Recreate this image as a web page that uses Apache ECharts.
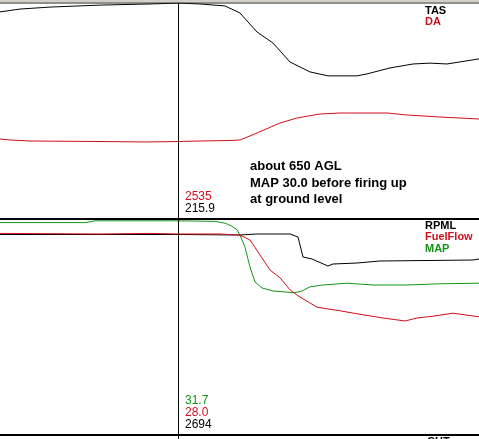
<!DOCTYPE html>
<html>
<head>
<meta charset="utf-8">
<script src="https://cdn.jsdelivr.net/npm/echarts@6/dist/echarts.min.js"></script>
<style>
  html, body { margin: 0; padding: 0; background: #fff; }
  #chart { width: 479px; height: 439px; }
</style>
</head>
<body>
<div id="chart"></div>
<script>
// sample index (time) and values
const tasT = [0, 20, 50, 100, 150, 178, 200, 225, 240, 257, 273, 290, 310, 328, 357, 367, 390, 413, 430, 447, 479]
const tasV = [212.8, 213.8, 214.5, 215.2, 215.6, 215.9, 215.6, 214.9, 212.4, 205.7, 201.8, 195.1, 191.6, 190.2, 190.2, 190.9, 193.0, 194.4, 194.7, 194.4, 196.2]

const daT = [0, 10, 30, 100, 145, 178, 200, 230, 240, 257, 280, 297, 320, 340, 387, 407, 440, 479]
const daV = [2560, 2550, 2540, 2535, 2530, 2535, 2540, 2545, 2550, 2620, 2720, 2770, 2810, 2820, 2820, 2800, 2780, 2760]

const rpmT = [0, 178, 240, 257, 290, 298, 303, 312, 328, 333, 357, 380, 473, 479]
const rpmV = [2694, 2694, 2689, 2699, 2699, 2669, 2469, 2449, 2379, 2399, 2409, 2429, 2439, 2449]

const ffT = [0, 100, 150, 178, 220, 240, 250, 260, 270, 280, 290, 298, 317, 340, 357, 383, 405, 417, 433, 453, 479]
const ffV = [28.1, 28.0, 28.1, 28.0, 28.0, 27.8, 27.0, 24.5, 22.0, 20.7, 18.7, 17.7, 15.8, 15.2, 14.7, 14.0, 13.5, 14.0, 14.3, 14.8, 14.2]

const mapT = [0, 85, 95, 178, 215, 225, 232, 237, 240, 245, 250, 255, 262, 273, 295, 302, 310, 323, 347, 373, 407, 440, 479]
const mapV = [31.4, 31.4, 31.7, 31.7, 31.6, 31.3, 30.8, 30.2, 29.3, 27.3, 24.0, 21.5, 20.5, 20.0, 19.7, 20.0, 20.7, 21.0, 21.3, 21.0, 21.0, 21.2, 21.3]

const cursorT = 178
const topNames = ['TAS', 'DA']
const bottomNames = ['RPML', 'FuelFlow', 'MAP']
const topCursorText = ['2535', '215.9']
const bottomCursorText = ['31.7', '28.0', '2694']
const note = ['about 650 AGL', 'MAP 30.0 before firing up', 'at ground level']

const RED = '#d0101c'
const GREEN = '#149414'
const BLACK = '#000000'

function pairs (t, v) {
  return t.map((x, i) => [x, v[i]])
}

const chart = echarts.init(document.getElementById('chart'), null, { renderer: 'canvas' })

const hiddenY = (gi, min, max) => ({
  type: 'value', gridIndex: gi, min: min, max: max, show: false
})

function line (name, color, xi, yi, data, z) {
  return {
    name: name,
    type: 'line',
    xAxisIndex: xi,
    yAxisIndex: yi,
    data: data,
    symbol: 'none',
    smooth: false,
    z: z || 2,
    lineStyle: { color: color, width: 1 }
  }
}

function labelBlock (x, y0, step, texts, colors, font) {
  return texts.map((t, i) => ({
    type: 'text',
    left: x,
    top: y0 + i * step,
    z: 10,
    style: { text: t, fill: colors[i], font: font }
  }))
}

const cursor = {
  silent: true,
  symbol: 'none',
  label: { show: false },
  lineStyle: { color: BLACK, width: 1, type: 'solid' },
  data: [{ xAxis: cursorT }]
}

const tasSeries = line('TAS', BLACK, 0, 0, pairs(tasT, tasV))
tasSeries.markLine = cursor
const rpmSeries = line('RPML', BLACK, 1, 2, pairs(rpmT, rpmV))
rpmSeries.markLine = cursor

chart.setOption({
  animation: false,
  backgroundColor: '#ffffff',
  grid: [
    { left: 0, right: 0, top: 3, height: 215 },
    { left: 0, right: 0, top: 219, height: 220 }
  ],
  xAxis: [
    { type: 'value', gridIndex: 0, min: 0, max: 479, show: false },
    { type: 'value', gridIndex: 1, min: 0, max: 479, show: false }
  ],
  yAxis: [
    hiddenY(0, 140, 215.94), // TAS
    hiddenY(0, 1770, 3920), // DA
    hiddenY(1, 649, 2849), // RPML
    hiddenY(1, -6.17, 30.5), // FuelFlow
    hiddenY(1, -4.67, 32) // MAP
  ],
  series: [
    tasSeries,
    line('DA', RED, 0, 1, pairs(daT, daV)),
    line('MAP', GREEN, 1, 4, pairs(mapT, mapV)),
    rpmSeries,
    line('FuelFlow', RED, 1, 3, pairs(ffT, ffV), 3)
  ],
  graphic: [
    // window frame and panel borders
    { type: 'rect', shape: { x: 0, y: 0, width: 479, height: 2 }, style: { fill: '#d4d0c8' }, z: 20 },
    { type: 'rect', shape: { x: 0, y: 2.5, width: 479, height: 1 }, style: { fill: '#202020' }, z: 20 },
    { type: 'rect', shape: { x: 0, y: 218, width: 479, height: 2 }, style: { fill: BLACK }, z: 20 },
    { type: 'rect', shape: { x: 0, y: 434, width: 479, height: 2 }, style: { fill: BLACK }, z: 20 },
    ...labelBlock(425, 5, 11, topNames, [BLACK, RED], 'bold 11px "Liberation Sans", Arial, sans-serif'),
    ...labelBlock(425, 220, 11.5, bottomNames, [BLACK, RED, GREEN], 'bold 11px "Liberation Sans", Arial, sans-serif'),
    ...labelBlock(250, 160, 16.5, note, [BLACK, BLACK, BLACK], 'bold 13px "Liberation Sans", Arial, sans-serif'),
    ...labelBlock(185, 191, 12, topCursorText, [RED, BLACK], '12px "Liberation Sans", Arial, sans-serif'),
    ...labelBlock(185, 395, 12, bottomCursorText, [GREEN, RED, BLACK], '12px "Liberation Sans", Arial, sans-serif'),
    { type: 'text', left: 427, top: 436, z: 10, style: { text: 'CHT', fill: BLACK, font: 'bold 11px "Liberation Sans", Arial, sans-serif' } }
  ]
})
</script>
</body>
</html>
